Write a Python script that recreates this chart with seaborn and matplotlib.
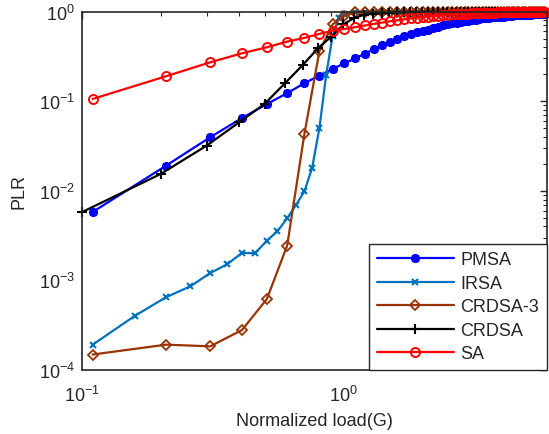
import numpy as np
import pandas as pd
import matplotlib
matplotlib.use("Agg")
import matplotlib.pyplot as plt
import seaborn as sns
from matplotlib.ticker import LogLocator, NullFormatter

# ---------------- data ----------------
x_hi = [1.01, 1.11, 1.21, 1.31, 1.41, 1.51, 1.61, 1.71, 1.81, 1.91,
        2.01, 2.11, 2.21, 2.31, 2.41, 2.51, 2.61, 2.71, 2.81, 2.91,
        3.01, 3.11, 3.21, 3.31, 3.41, 3.51, 3.61, 3.71, 3.81, 3.91,
        4.01, 4.11, 4.21, 4.31, 4.41, 4.51, 4.61, 4.71, 4.81, 4.91,
        5.01, 5.11, 5.21, 5.31, 5.41, 5.51, 5.61, 5.71, 5.81, 5.91]
x_lo = [0.11, 0.21, 0.31, 0.41, 0.51, 0.61, 0.71, 0.81, 0.91]

pmsa_x = x_lo + x_hi
pmsa_y = [5.8e-3, 0.0191, 0.0397, 0.065, 0.093, 0.123, 0.159, 0.193, 0.229,
          0.265, 0.30, 0.34, 0.38, 0.42, 0.46, 0.50, 0.53, 0.56, 0.59,
          0.61, 0.63, 0.65, 0.67, 0.70, 0.72, 0.74, 0.755, 0.77, 0.78,
          0.795, 0.805, 0.815, 0.83, 0.84, 0.85, 0.855, 0.86, 0.865, 0.87,
          0.875, 0.88, 0.89, 0.895, 0.90, 0.905, 0.91, 0.912, 0.915, 0.918,
          0.92, 0.925, 0.928, 0.93, 0.932, 0.934, 0.936, 0.938, 0.939, 0.94]

irsa_x = [0.11, 0.16, 0.21, 0.26, 0.31, 0.36, 0.41, 0.46, 0.51, 0.56,
          0.61, 0.66, 0.71, 0.76, 0.81, 0.86, 0.91, 0.96] + x_hi
irsa_y = [1.92e-4, 4.05e-4, 6.5e-4, 8.6e-4, 1.21e-3, 1.52e-3, 2.03e-3, 2.01e-3,
          2.78e-3, 3.54e-3, 4.94e-3, 6.97e-3, 9.9e-3, 0.018, 0.05, 0.197,
          0.535, 0.85,
          0.95, 0.98, 0.99, 0.995, 1.0, 1.0, 1.0, 1.0, 1.0, 1.0,
          1.0, 1.0, 1.0, 1.0, 1.0, 1.0, 1.0, 1.0, 1.0, 1.0,
          1.0, 1.0, 1.0, 1.0, 1.0, 1.0, 1.0, 1.0, 1.0, 1.0,
          1.0, 1.0, 1.0, 1.0, 1.0, 1.0, 1.0, 1.0, 1.0, 1.0,
          1.0, 1.0, 1.0, 1.0, 1.0, 1.0, 1.0, 1.0, 1.0, 1.0]

crdsa3_x = x_lo + x_hi
crdsa3_y = [1.49e-4, 1.92e-4, 1.84e-4, 2.8e-4, 6.2e-4, 2.45e-3, 0.0432, 0.361, 0.72,
            0.90, 0.98, 1.0, 1.0, 1.0, 1.0, 1.0, 1.0, 1.0, 1.0,
            1.0, 1.0, 1.0, 1.0, 1.0, 1.0, 1.0, 1.0, 1.0, 1.0,
            1.0, 1.0, 1.0, 1.0, 1.0, 1.0, 1.0, 1.0, 1.0, 1.0,
            1.0, 1.0, 1.0, 1.0, 1.0, 1.0, 1.0, 1.0, 1.0, 1.0,
            1.0, 1.0, 1.0, 1.0, 1.0, 1.0, 1.0, 1.0, 1.0, 1.0]

crdsa_x = [0.1, 0.2, 0.3, 0.4, 0.5, 0.6, 0.7, 0.8, 0.9,
           1.0, 1.1, 1.2, 1.3, 1.4, 1.5, 1.6, 1.7, 1.8, 1.9,
           2.0, 2.1, 2.2, 2.3, 2.4, 2.5, 2.6, 2.7, 2.8, 2.9,
           3.0, 3.1, 3.2, 3.3, 3.4, 3.5, 3.6, 3.7, 3.8, 3.9,
           4.0, 4.1, 4.2, 4.3, 4.4, 4.5, 4.6, 4.7, 4.8, 4.9,
           5.0, 5.1, 5.2, 5.3, 5.4, 5.5, 5.6, 5.7, 5.8, 5.9]
crdsa_y = [5.77e-3, 0.0154, 0.0319, 0.0583, 0.0933, 0.16, 0.254, 0.39, 0.526,
           0.72, 0.85, 0.92, 0.95, 0.97, 0.975, 0.98, 0.985, 0.99, 0.99,
           0.99, 0.992, 0.994, 0.995, 0.996, 0.997, 0.997, 0.998, 0.998, 0.998,
           0.999, 0.999, 0.999, 0.999, 0.999, 1.0, 1.0, 1.0, 1.0, 1.0,
           1.0, 1.0, 1.0, 1.0, 1.0, 1.0, 1.0, 1.0, 1.0, 1.0,
           1.0, 1.0, 1.0, 1.0, 1.0, 1.0, 1.0, 1.0, 1.0, 1.0]

sa_x = x_lo + x_hi
sa_y = [0.106, 0.19, 0.272, 0.343, 0.40, 0.463, 0.509, 0.564, 0.614,
        0.64, 0.67, 0.70, 0.73, 0.755, 0.78, 0.80, 0.82, 0.84, 0.855,
        0.87, 0.88, 0.89, 0.90, 0.91, 0.92, 0.93, 0.935, 0.94, 0.945,
        0.95, 0.955, 0.96, 0.963, 0.967, 0.97, 0.972, 0.975, 0.977, 0.979,
        0.981, 0.983, 0.985, 0.986, 0.987, 0.988, 0.989, 0.99, 0.991, 0.992,
        0.993, 0.994, 0.994, 0.995, 0.995, 0.996, 0.996, 0.996, 0.997, 0.997]

series_names = ["PMSA", "IRSA", "CRDSA-3", "CRDSA", "SA"]

# ---------------- plot ----------------
sns.set_style("white")
plt.rcParams["font.family"] = ["Liberation Sans", "DejaVu Sans"]
plt.rcParams["mathtext.default"] = "regular"
plt.rcParams["mathtext.fontset"] = "custom"
plt.rcParams["mathtext.rm"] = "Liberation Sans"

fig = plt.figure(figsize=(5.49, 4.35), dpi=100)
ax = fig.add_axes([0.149, 0.147, 0.847, 0.824])

styles = {
    "PMSA": dict(color="#0000FF", marker=(8, 2, 0), ms=6.5, mew=1.8),
    "IRSA": dict(color="#0072BD", marker="x", ms=5, mew=1.5),
    "CRDSA-3": dict(color="#993300", marker="D", ms=5.5, mew=1.3, mfc="none"),
    "CRDSA": dict(color="#000000", marker="+", ms=7, mew=1.5),
    "SA": dict(color="#FF0000", marker="o", ms=6.5, mew=1.4, mfc="none"),
}
data = {
    "PMSA": (pmsa_x, pmsa_y),
    "IRSA": (irsa_x, irsa_y),
    "CRDSA-3": (crdsa3_x, crdsa3_y),
    "CRDSA": (crdsa_x, crdsa_y),
    "SA": (sa_x, sa_y),
}

for name in series_names:
    xs, ys = data[name]
    df = pd.DataFrame({"G": xs, "PLR": ys})
    st = styles[name]
    kw = dict(marker=st["marker"], markersize=st["ms"], markeredgewidth=st["mew"],
              markeredgecolor=st["color"])
    kw["markerfacecolor"] = st.get("mfc", st["color"])
    sns.lineplot(data=df, x="G", y="PLR", ax=ax, color=st["color"], linewidth=1.6,
                 estimator=None, sort=False, label=name, clip_on=False, **kw)

ax.set_xscale("log")
ax.set_yscale("log")
ax.set_xlim(0.1, 6)
ax.set_ylim(1e-4, 1)

ax.set_xticks([0.1, 1])
ax.yaxis.set_major_locator(LogLocator(base=10, numticks=10))
ax.xaxis.set_minor_locator(LogLocator(base=10, subs=np.arange(2, 10), numticks=20))
ax.yaxis.set_minor_locator(LogLocator(base=10, subs=np.arange(2, 10), numticks=20))
ax.xaxis.set_minor_formatter(NullFormatter())
ax.yaxis.set_minor_formatter(NullFormatter())

ax.tick_params(which="both", direction="in", top=True, right=True, colors="#262626",
               labelsize=13, labelcolor="#262626")
ax.tick_params(which="major", length=5, width=1)
ax.tick_params(which="minor", length=3, width=0.8)
ax.tick_params(axis="x", which="major", pad=11)
ax.tick_params(axis="y", which="major", pad=5)
for sp in ax.spines.values():
    sp.set_visible(True)
    sp.set_color("#262626")
    sp.set_linewidth(1.2)

ax.set_xlabel("Normalized load(G)", fontsize=13, color="#262626", labelpad=5)
ax.set_ylabel("PLR", fontsize=13, color="#262626", labelpad=8)

leg = ax.legend(loc="lower right", borderaxespad=0.0, fontsize=13, handlelength=4.3,
                handletextpad=0.35, frameon=True, fancybox=False, edgecolor="#262626",
                framealpha=1, labelspacing=0.36, borderpad=0.42)
leg.get_frame().set_linewidth(1.0)

fig.savefig("out.png", dpi=100)
